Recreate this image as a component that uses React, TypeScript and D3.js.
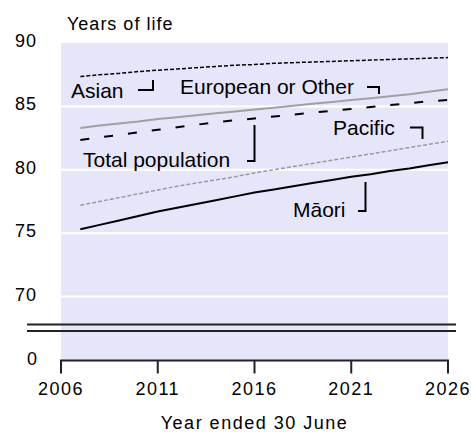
import * as d3 from "d3";

const years = d3.range(2007, 2027);
const asian = [87.35, 87.5, 87.6, 87.75, 87.85, 87.95, 88.05, 88.15, 88.25, 88.3, 88.4, 88.45, 88.5, 88.55, 88.6, 88.65, 88.7, 88.75, 88.8, 88.85];
const european = [83.3, 83.5, 83.65, 83.8, 84.0, 84.15, 84.3, 84.45, 84.6, 84.75, 84.9, 85.05, 85.2, 85.35, 85.5, 85.65, 85.8, 85.95, 86.15, 86.35];
const total = [82.35, 82.55, 82.75, 82.95, 83.15, 83.35, 83.55, 83.75, 83.9, 84.05, 84.2, 84.35, 84.5, 84.65, 84.8, 84.95, 85.1, 85.25, 85.4, 85.5];
const pacific = [77.2, 77.5, 77.8, 78.1, 78.4, 78.7, 78.95, 79.2, 79.45, 79.75, 80.0, 80.25, 80.5, 80.75, 81.0, 81.25, 81.5, 81.75, 82.0, 82.25];
const maori = [75.3, 75.65, 76.0, 76.35, 76.7, 77.0, 77.3, 77.6, 77.9, 78.2, 78.45, 78.7, 78.95, 79.2, 79.45, 79.65, 79.9, 80.1, 80.35, 80.6];

const xTicks = [2006, 2011, 2016, 2021, 2026];
const yTicks = [70, 75, 80, 85, 90];

const W = 471;
const H = 432;
const left = 61;
const right = 448;
const top = 43;
const y70 = 296.5;
const base = 360.5;

export default function App() {
  const x = d3.scaleLinear().domain([2006, 2026]).range([left, right]);
  const y = d3.scaleLinear().domain([70, 90]).range([y70, top]);
  const line = d3
    .line<number>()
    .x((_, i) => x(years[i]))
    .y((d) => y(d));

  const series = [
    { values: maori, stroke: "#000", width: 2, dash: undefined },
    { values: pacific, stroke: "#9a9a9a", width: 1.5, dash: "4,2" },
    { values: total, stroke: "#000", width: 2, dash: "9,15" },
    { values: european, stroke: "#a0a0a0", width: 2, dash: undefined },
    { values: asian, stroke: "#000", width: 1.5, dash: "4,2" },
  ];

  const font = "'Liberation Sans', Arial, sans-serif";

  // label text and its little bracket pointing at the line
  const labels = [
    { text: "Asian", tx: 71, ty: 98, path: "M138,90 H153 V80" },
    { text: "European or Other", tx: 180, ty: 94, path: "M367,87 H379 V94" },
    { text: "Pacific", tx: 333, ty: 135, path: "M410,127.5 H422.5 V139" },
    { text: "Total population", tx: 83, ty: 167, path: "M247,161 H254.5 V125" },
    { text: "Māori", tx: 293, ty: 217, path: "M358,211 H365.5 V182" },
  ];

  return (
    <svg
      width={W}
      height={H}
      style={{ position: "absolute", left: 0, top: 0, background: "#fff" }}
    >
      <rect x={left} y={top} width={right - left} height={base - top} fill="#e6e6fa" />
      {yTicks
        .filter((t) => t < 90)
        .map((t) => (
          <line key={t} x1={left} x2={right} y1={y(t)} y2={y(t)} stroke="#fff" strokeWidth={2} />
        ))}

      {series.map((s, i) => (
        <path
          key={i}
          d={line(s.values) ?? ""}
          fill="none"
          stroke={s.stroke}
          strokeWidth={s.width}
          strokeDasharray={s.dash}
        />
      ))}

      {labels.map((l) => (
        <g key={l.text}>
          <text x={l.tx} y={l.ty} fontFamily={font} fontSize={21} fill="#000">
            {l.text}
          </text>
          <path d={l.path} fill="none" stroke="#000" strokeWidth={2} />
        </g>
      ))}

      {/* axis break */}
      <line x1={27} x2={456} y1={324.5} y2={324.5} stroke="#222" strokeWidth={2} />
      <line x1={27} x2={456} y1={331} y2={331} stroke="#222" strokeWidth={2} />

      {/* y tick labels */}
      {yTicks.map((t) => (
        <text
          key={t}
          x={37}
          y={y(t) + 4}
          textAnchor="end"
          fontFamily={font}
          fontSize={18}
          letterSpacing={1}
          fill="#000"
        >
          {t}
        </text>
      ))}
      <text x={37} y={base + 4} textAnchor="end" fontFamily={font} fontSize={18} fill="#000">
        0
      </text>

      {/* x axis */}
      <line x1={left - 1} x2={right + 1} y1={base} y2={base} stroke="#222" strokeWidth={2} />
      {xTicks.map((t) => (
        <g key={t}>
          <line x1={x(t)} x2={x(t)} y1={base} y2={base + 13} stroke="#222" strokeWidth={2} />
          <text
            x={x(t)}
            y={395}
            textAnchor="middle"
            fontFamily={font}
            fontSize={18}
            letterSpacing={1.5}
            fill="#000"
          >
            {t}
          </text>
        </g>
      ))}

      <text x={67} y={30} fontFamily={font} fontSize={18} letterSpacing={1} fill="#000">
        Years of life
      </text>
      <text
        x={(left + right) / 2}
        y={429}
        textAnchor="middle"
        fontFamily={font}
        fontSize={18}
        letterSpacing={1.5}
        fill="#000"
      >
        Year ended 30 June
      </text>
    </svg>
  );
}
